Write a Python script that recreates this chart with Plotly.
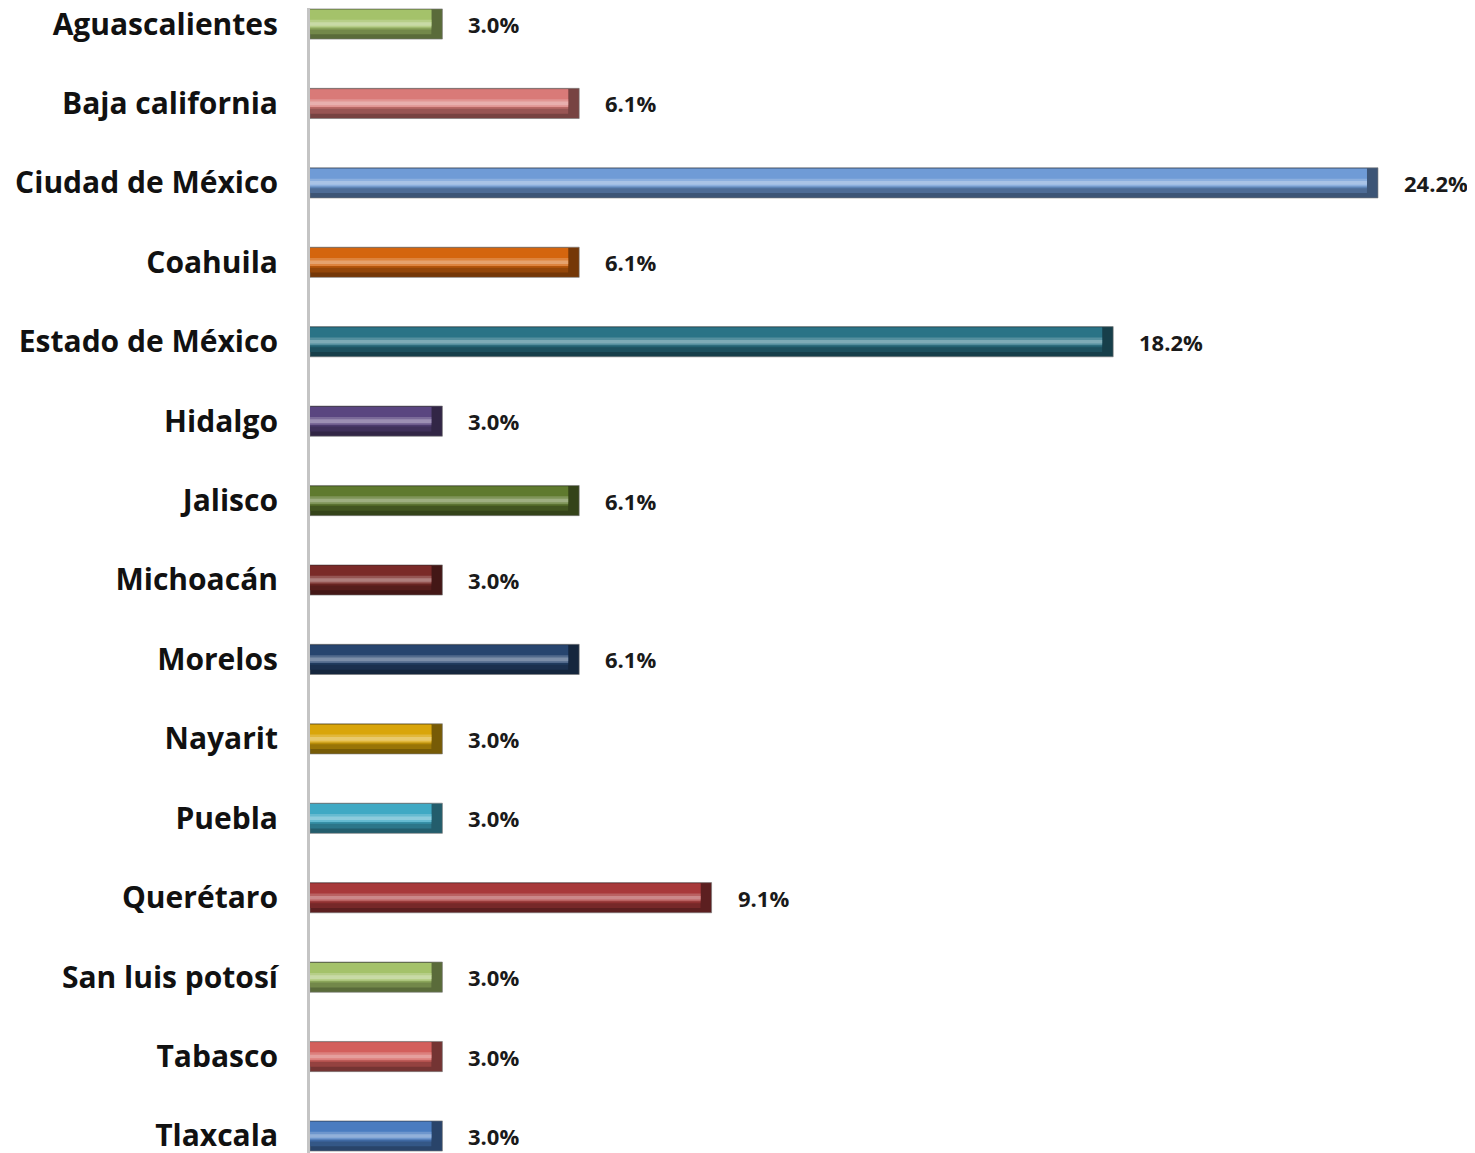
import plotly.graph_objects as go

# data
estados = [
    "Aguascalientes", "Baja california", "Ciudad de México", "Coahuila",
    "Estado de México", "Hidalgo", "Jalisco", "Michoacán", "Morelos",
    "Nayarit", "Puebla", "Querétaro", "San luis potosí", "Tabasco", "Tlaxcala",
]
porcentajes = [3.0, 6.1, 24.2, 6.1, 18.2, 3.0, 6.1, 3.0, 6.1, 3.0, 3.0, 9.1, 3.0, 3.0, 3.0]

# mid tone of each bar
colores = ["#a4c26a", "#d97a78", "#6f9bd6", "#d4650e", "#2a7386", "#5a4580", "#5f7a2e",
           "#7a2a28", "#27456f", "#d9a50a", "#3fa9c4", "#a8393a", "#a4c26a", "#d35f5c", "#4a7cc0"]

BAR_W = 0.38
CAP = 0.25  # dark bevel at the bar end, in % units
FONT = "'Open Sans', Lato, Arial, sans-serif"


def mix(hex_color: str, other: tuple, t: float) -> str:
    h = hex_color.lstrip("#")
    rgb = [int(h[i:i + 2], 16) for i in (0, 2, 4)]
    out = [round(c + (o - c) * t) for c, o in zip(rgb, other)]
    return "#%02x%02x%02x" % tuple(out)


WHITE, BLACK = (255, 255, 255), (0, 0, 0)
inner_len = [v - CAP for v in porcentajes]


def add_layer(fig, x, colors, frac0, frac1, line=None):
    fig.add_trace(go.Bar(
        y=estados, x=x, orientation="h",
        width=BAR_W * (frac1 - frac0), offset=-BAR_W / 2 + BAR_W * frac0,
        marker=dict(color=colors, line=line or dict(width=0)),
        hoverinfo="skip", showlegend=False,
    ))


fig = go.Figure()
# base bar with dark end cap, then bevel bands on top of it
add_layer(fig, porcentajes, [mix(c, BLACK, 0.45) for c in colores], 0, 1,
          dict(color="rgba(120,120,120,0.6)", width=1))
add_layer(fig, inner_len, [mix(c, BLACK, 0.3) for c in colores], 0.03, 0.84)
add_layer(fig, inner_len, [mix(c, BLACK, 0.15) for c in colores], 0.03, 0.68)
add_layer(fig, inner_len, colores, 0.03, 0.46)
add_layer(fig, inner_len, [mix(c, WHITE, 0.2) for c in colores], 0.36, 0.62)
add_layer(fig, inner_len, [mix(c, WHITE, 0.4) for c in colores], 0.44, 0.56)

for est, val in zip(estados, porcentajes):
    fig.add_annotation(
        x=val, y=est, text=f"<b>{val:.1f}%</b>", showarrow=False,
        xanchor="left", yanchor="middle", xshift=24,
        font=dict(family=FONT, size=22, color="#1a1a1a"),
    )

fig.update_layout(
    width=1475, height=1153,
    margin=dict(l=302, r=0, t=0, b=0),
    paper_bgcolor="#ffffff", plot_bgcolor="#ffffff",
    barmode="overlay",
    showlegend=False,
)
fig.update_xaxes(range=[0, 26.58], visible=False, showgrid=False, zeroline=False,
                 automargin=False)
fig.update_yaxes(
    categoryorder="array", categoryarray=estados,
    range=[14.315, -0.2014], automargin=False,
    showgrid=False, zeroline=False,
    showline=True, linecolor="#c4c4c4", linewidth=3,
    ticks="", ticklabelstandoff=23,
    tickfont=dict(family=FONT, size=30, color="#111111"),
    tickprefix="<b>", ticksuffix="</b>",
)

fig.write_html("out.html")
